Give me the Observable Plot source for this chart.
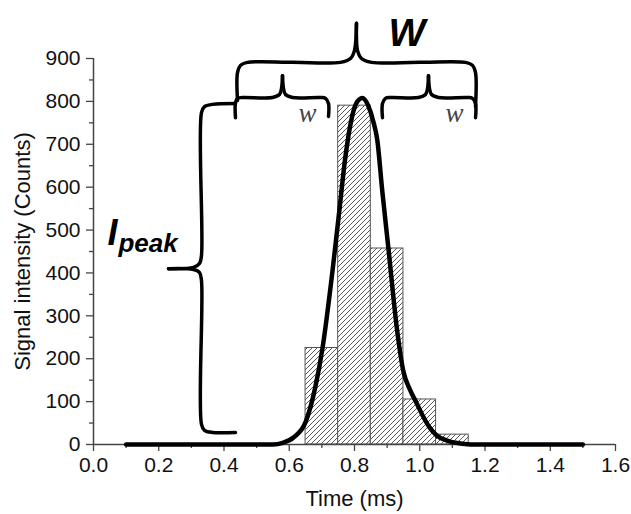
<!DOCTYPE html>
<html><head><meta charset="utf-8">
<script src="https://cdn.jsdelivr.net/npm/d3@7"></script>
<script src="https://cdn.jsdelivr.net/npm/@observablehq/plot@0.6"></script>
<style>body{margin:0;background:#fff} svg{display:block}</style>
</head><body><div id="chart"></div><script>
// Histogram bins (ms) and counts
const binStart = [0.65, 0.75, 0.85, 0.95, 1.05];
const binEnd   = [0.75, 0.85, 0.95, 1.05, 1.15];
const counts   = [225, 790, 457, 105, 23];

// Fitted curve
const fitTime   = [0.10, 0.55, 0.58, 0.614, 0.65, 0.68, 0.702, 0.732, 0.752, 0.772, 0.788, 0.805, 0.824, 0.842, 0.857, 0.870, 0.885, 0.904, 0.930, 0.950, 0.970, 0.990, 1.010, 1.030, 1.052, 1.084, 1.13, 1.18, 1.50];
const fitSignal = [0, 0, 4, 17, 52, 134, 225, 401, 535, 670, 748, 795, 808, 790, 755, 709, 592, 457, 270, 170, 128, 97, 66, 40, 21, 9, 2, 0, 0];

// Axis ticks
const xTicks = [0, 0.2, 0.4, 0.6, 0.8, 1.0, 1.2, 1.4, 1.6];
const xMinorTicks = [0.1, 0.3, 0.5, 0.7, 0.9, 1.1, 1.3, 1.5];
const yTicks = [0, 100, 200, 300, 400, 500, 600, 700, 800, 900];
const yMinorTicks = [50, 150, 250, 350, 450, 550, 650, 750, 850];

// Brace annotations (data units: time, counts), each as two halves ending at the cusp
const braceBigLeft   = [[0.4414, 802], [0.4414, 867], [0.4506, 884], [0.4720, 891], [0.7571, 891], [0.7877, 900], [0.8000, 919], [0.8061, 982]];
const braceBigRight  = [[1.1709, 788], [1.1709, 867], [1.1617, 884], [1.1402, 891], [0.8521, 891], [0.8214, 900], [0.8092, 919], [0.8061, 982]];
const braceWLeftA    = [[0.4352, 762], [0.4352, 797], [0.4414, 807], [0.4567, 809], [0.5487, 809], [0.5701, 816], [0.5762, 830], [0.5793, 860]];
const braceWLeftB    = [[0.7203, 765], [0.7203, 795], [0.7111, 807], [0.6958, 809], [0.6100, 809], [0.5885, 816], [0.5824, 830], [0.5793, 860]];
const braceWRightA   = [[0.8858, 762], [0.8858, 795], [0.8950, 807], [0.9103, 809], [0.9962, 809], [1.0176, 816], [1.0238, 830], [1.0268, 860]];
const braceWRightB   = [[1.1709, 762], [1.1709, 795], [1.1617, 807], [1.1464, 809], [1.0575, 809], [1.0360, 816], [1.0299, 830], [1.0268, 860]];
const bracePeakTop   = [[0.4352, 795], [0.3648, 793], [0.3402, 788], [0.3310, 774], [0.3310, 441], [0.3249, 422], [0.3065, 413], [0.2299, 410]];
const bracePeakBot   = [[0.4352, 28], [0.3648, 28], [0.3402, 33], [0.3310, 47], [0.3310, 382], [0.3249, 401], [0.3065, 408], [0.2299, 410]];

const bars = binStart.map((s, i) => ({x1: s, x2: binEnd[i], y: counts[i]}));
const fit = fitTime.map((t, i) => ({t, s: fitSignal[i]}));
const braces = [braceBigLeft, braceBigRight, braceWLeftA, braceWLeftB, braceWRightA, braceWRightB, bracePeakTop, bracePeakBot]
  .flatMap((pts, id) => pts.map(([x, y]) => ({x, y, id})));

const svg = Plot.plot({
  width: 631,
  height: 514,
  marginLeft: 93,
  marginRight: 16,
  marginTop: 58,
  marginBottom: 70,
  style: {fontFamily: "'Liberation Sans', Arial, sans-serif", fontSize: "21px", color: "#111", background: "#fff"},
  x: {domain: [0, 1.6]},
  y: {domain: [0, 900]},
  marks: [
    Plot.rectY(bars, {x1: "x1", x2: "x2", y: "y", fill: "url(#hatch)", stroke: "#555", strokeWidth: 1}),
    Plot.axisX(xMinorTicks, {tickSize: 4, text: null, stroke: "#444", strokeWidth: 1.3}),
    Plot.axisX(xTicks, {tickSize: 7, tickPadding: 6, tickFormat: d => d.toFixed(1), stroke: "#444", strokeWidth: 1.3, fontSize: 21, label: null}),
    Plot.axisY(yMinorTicks, {tickSize: 4, text: null, stroke: "#444", strokeWidth: 1.3}),
    Plot.axisY(yTicks, {tickSize: 7, tickPadding: 6, stroke: "#444", strokeWidth: 1.3, fontSize: 21, label: null}),
    Plot.ruleY([0], {stroke: "#444", strokeWidth: 1.5}),
    Plot.ruleX([0], {stroke: "#444", strokeWidth: 1.5}),
    Plot.line(fit, {x: "t", y: "s", curve: "monotone-x", stroke: "#000", strokeWidth: 4.5}),
    Plot.line(braces, {x: "x", y: "y", z: "id", curve: "catmull-rom", stroke: "#000", strokeWidth: 3.5, strokeLinecap: "round", strokeLinejoin: "round"}),
    Plot.text(["W"], {x: 0.904, y: 930, textAnchor: "start", lineAnchor: "bottom", fontSize: 39, fontWeight: "bold", fontStyle: "italic", fill: "#000"}),
    Plot.text(["w", "w"], {x: [0.656, 1.1065], y: [753, 753], lineAnchor: "bottom", fontSize: 27, fontStyle: "italic", fontFamily: "'Liberation Serif', 'Times New Roman', serif", fill: "#444"}),
    Plot.text(["I"], {x: 0.043, y: 464, textAnchor: "start", lineAnchor: "bottom", fontSize: 36, fontWeight: "bold", fontStyle: "italic", fill: "#000"}),
    Plot.text(["peak"], {x: 0.0766, y: 448, textAnchor: "start", lineAnchor: "bottom", fontSize: 26, fontWeight: "bold", fontStyle: "italic", fill: "#000"}),
    Plot.text(["Time (ms)"], {frameAnchor: "bottom", lineAnchor: "middle", textAnchor: "middle", dy: 54, fontSize: 22, fill: "#111"}),
    Plot.text(["Signal intensity (Counts)"], {frameAnchor: "left", textAnchor: "middle", lineAnchor: "middle", dx: -71, rotate: -90, fontSize: 22, fill: "#111"})
  ]
});

const defs = d3.select(svg).insert("defs", ":first-child");
const pat = defs.append("pattern").attr("id", "hatch").attr("patternUnits", "userSpaceOnUse").attr("width", 5).attr("height", 5);
pat.append("rect").attr("width", 5).attr("height", 5).attr("fill", "#fff");
pat.append("path").attr("d", "M-1,1 l2,-2 M0,5 l5,-5 M4,6 l2,-2").attr("stroke", "#444").attr("stroke-width", 0.9);

document.getElementById("chart").appendChild(svg);
</script></body></html>
